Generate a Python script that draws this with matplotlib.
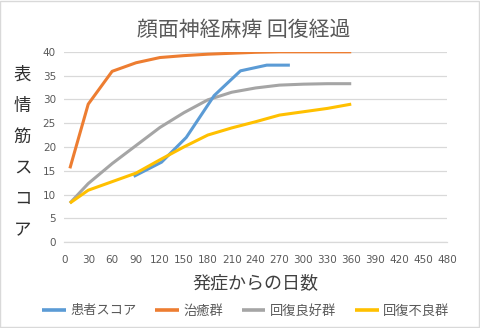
import numpy as np
import matplotlib
matplotlib.use("Agg")
import matplotlib.pyplot as plt

plt.rcParams['font.family'] = ['Noto Sans CJK JP', 'DejaVu Sans']

# data
group_days = [7, 30, 60, 90, 120, 150, 180, 210, 240, 270, 300, 330, 360]
cured      = [15.5, 29.0, 35.9, 37.7, 38.8, 39.2, 39.5, 39.7, 39.9, 40.0, 40.0, 40.0, 40.0]
good       = [8.2, 12.3, 16.5, 20.3, 24.1, 27.2, 29.9, 31.5, 32.4, 33.0, 33.2, 33.3, 33.3]
poor       = [8.2, 10.9, 12.7, 14.5, 17.3, 20.0, 22.5, 24.0, 25.3, 26.7, 27.4, 28.1, 29.0]

patient_days  = [87, 122, 153, 188, 221, 254, 283]
patient_score = [13.8, 16.8, 22.0, 30.8, 36.0, 37.2, 37.2]

series_names = ['患者スコア', '治癒群', '回復良好群', '回復不良群']
series_colors = ['#5B9BD5', '#ED7D31', '#A5A5A5', '#FFC000']

x_ticks = list(range(0, 481, 30))
y_ticks = list(range(0, 41, 5))
ylabel_chars = list('表情筋スコア')

fig = plt.figure(figsize=(4.8, 3.28), dpi=100)
fig.patch.set_facecolor('white')
fig.patches.append(plt.Rectangle((0.001, 0.002), 0.997, 0.995, transform=fig.transFigure,
                                 fill=False, edgecolor='#D9D9D9', linewidth=1))
ax = fig.add_axes([0.134, 0.262, 0.797, 0.58])

lw = 2.2
ax.plot(patient_days, patient_score, color=series_colors[0], lw=lw, label=series_names[0],
        solid_capstyle='butt', zorder=5)
ax.plot(group_days, cured, color=series_colors[1], lw=lw, label=series_names[1],
        solid_capstyle='butt', zorder=4)
ax.plot(group_days, good, color=series_colors[2], lw=lw, label=series_names[2],
        solid_capstyle='butt', zorder=3)
ax.plot(group_days, poor, color=series_colors[3], lw=lw, label=series_names[3],
        solid_capstyle='butt', zorder=6)

ax.set_xlim(0, 480)
ax.set_ylim(0, 40)
ax.set_xticks(x_ticks)
ax.set_yticks(y_ticks)
ax.tick_params(length=0, labelsize=7.5, labelcolor='#595959', pad=6)
ax.tick_params(axis='x', pad=9)
for lab in ax.get_xticklabels() + ax.get_yticklabels():
    lab.set_family('DejaVu Sans')
ax.grid(axis='y', color='#D9D9D9', lw=0.9)
ax.set_axisbelow(True)
for side in ['top', 'right', 'left']:
    ax.spines[side].set_visible(False)
ax.spines['bottom'].set_color('#D9D9D9')
ax.spines['bottom'].set_linewidth(0.9)

fig.text(0.508, 0.908, '顔面神経麻痺 回復経過', ha='center', va='center',
         fontsize=15, color='#595959')
fig.text(0.533, 0.137, '発症からの日数', ha='center', va='center',
         fontsize=13, color='#404040')

for i, ch in enumerate(ylabel_chars):
    fig.text(0.047, 1 - (75 + i * 31) / 328, ch, ha='center', va='center',
             fontsize=12.5, color='#303030')

leg = fig.legend(loc='center', bbox_to_anchor=(0.512, 0.052), ncol=4, frameon=False,
                 fontsize=9.5, handlelength=1.8, handletextpad=0.35, columnspacing=1.4,
                 labelcolor='#595959')
for line in leg.get_lines():
    line.set_linewidth(2.6)

fig.savefig('out.png', dpi=100)
